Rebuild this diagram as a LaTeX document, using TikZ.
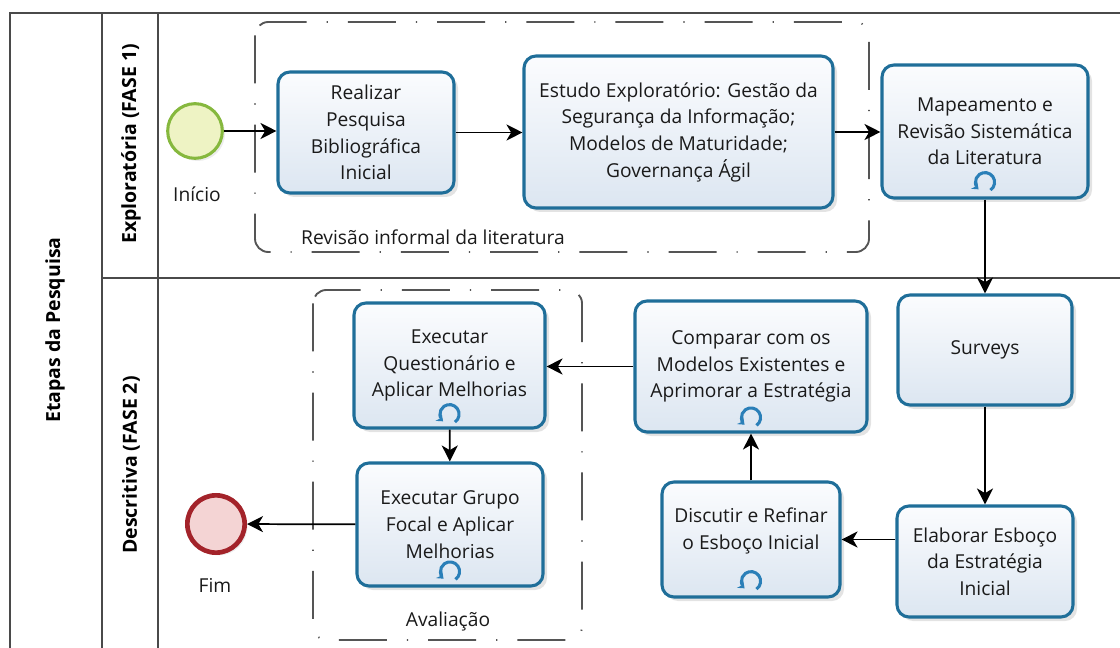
\documentclass[tikz,border=0pt]{standalone}
\usepackage{fontspec}
\setmainfont{Open Sans}
\usetikzlibrary{arrows.meta,shadows,calc}
\definecolor{taskborder}{HTML}{1F6E99}
\definecolor{tasktop}{HTML}{FBFCFE}
\definecolor{taskbot}{HTML}{DCE6F1}
\definecolor{loopblue}{HTML}{2A7FB8}
\definecolor{startfill}{HTML}{EEF3C4}
\definecolor{startdraw}{HTML}{86B83E}
\definecolor{endfill}{HTML}{F4D4D4}
\definecolor{enddraw}{HTML}{A3232A}
\definecolor{laneline}{HTML}{4A4A4A}
\definecolor{groupline}{HTML}{555555}
\definecolor{txt}{HTML}{1A1A1A}
\tikzset{
  task/.style={draw=taskborder, line width=2.3pt, rounded corners=9pt,
    top color=tasktop, bottom color=taskbot, align=center, text=txt,
    font=\fontsize{14.4}{20}\selectfont,
    drop shadow={opacity=0.22, shadow xshift=3pt, shadow yshift=-3pt}},
  startev/.style={circle, draw=startdraw, fill=startfill, line width=2.3pt,
    minimum size=41pt, inner sep=0pt,
    drop shadow={opacity=0.15, shadow xshift=2pt, shadow yshift=-2pt}},
  endev/.style={circle, draw=enddraw, fill=endfill, line width=3.5pt,
    minimum size=43pt, inner sep=0pt,
    drop shadow={opacity=0.15, shadow xshift=2pt, shadow yshift=-2pt}},
  flow/.style={draw=black, line width=1.3pt, -{Stealth[length=12pt,width=12pt,inset=3.5pt]}},
  lane/.style={draw=laneline, line width=1.2pt},
  grp/.style={draw=groupline, line width=1.4pt, rounded corners=10pt,
    dash pattern=on 36pt off 15pt on 0.9pt off 15pt},
  lbl/.style={text=txt, font=\fontsize{14.4}{17}\selectfont},
  lanelbl/.style={text=black, rotate=90, font=\bfseries\fontsize{14.6}{17}\selectfont},
  loopmark/.pic={\draw[line width=2.3pt, color=loopblue, -{Stealth[length=4.5pt,width=7pt]}]
      (-55:7.2pt) arc (-55:228:7.2pt);}
}
\begin{document}
\begin{tikzpicture}[x=0.75pt,y=-0.75pt]
\useasboundingbox (0,0) rectangle (1120,648);
% pool and lanes
\draw[lane] (10,648) -- (10,13) -- (1120,13);
\draw[lane] (102,13) -- (102,648);
\draw[lane] (158,13) -- (158,648);
\draw[lane] (102,278) -- (1120,278);
\node[lanelbl] (pool) at (55,330) {Etapas da Pesquisa};
\node[lanelbl] (lane1) at (131,144) {Exploratória (FASE 1)};
\node[lanelbl] (lane2) at (131,465) {Descritiva (FASE 2)};
% groups
\draw[grp] (255,22) rectangle (869,252);
\node[lbl] (g1) at (433,237) {Revisão informal da literatura};
\draw[grp] (313,290) rectangle (582,640);
\node[lbl] (g2) at (448,622) {Avaliação};
% events
\node[startev] (start) at (195,131) {};
\node[lbl] (startl) at (197,194) {Início};
\node[endev] (fim) at (216,524) {};
\node[lbl] (fiml) at (215,585) {Fim};
% tasks
\node[task, minimum width=132pt, minimum height=90.75pt] (t1) at (366,132.5)
  {Realizar\\Pesquisa\\Bibliográfica\\Inicial};
\node[task, minimum width=231.75pt, minimum height=114pt] (t2) at (678.5,132)
  {Estudo Exploratório: Gestão da\\Segurança da Informação;\\Modelos de Maturidade;\\Governança Ágil};
\node[task, minimum width=154.5pt, minimum height=99.75pt] (t3) at (985,131.5)
  {Mapeamento e\\Revisão Sistemática\\da Literatura};
\node[task, minimum width=130.5pt, minimum height=82.5pt] (surveys) at (985,350)
  {Surveys};
\node[task, minimum width=132pt, minimum height=83.25pt] (elab) at (985,561.5)
  {Elaborar Esboço\\da Estratégia\\Inicial};
\node[task, minimum width=133.5pt, minimum height=86.25pt] (disc) at (751,539.5)
  {Discutir e Refinar\\o Esboço Inicial\\[-4pt]};
\node[task, minimum width=174pt, minimum height=98.25pt] (comp) at (751,366.5)
  {Comparar com os\\Modelos Existentes e\\Aprimorar a Estratégia};
\node[task, minimum width=143.25pt, minimum height=93.75pt] (execq) at (449.5,365.5)
  {Executar\\Questionário e\\Aplicar Melhorias};
\node[task, minimum width=139.5pt, minimum height=92.25pt] (execg) at (450,524.5)
  {Executar Grupo\\Focal e Aplicar\\Melhorias};
% loop markers
\pic at ([yshift=13pt]t3.south) {loopmark};
\pic at ([yshift=12pt]comp.south) {loopmark};
\pic at ([yshift=13pt]disc.south) {loopmark};
\pic at ([yshift=11.5pt]execq.south) {loopmark};
\pic at ([yshift=12pt]execg.south) {loopmark};
% flows
\draw[flow] (start) -- (start -| t1.west);
\draw[flow] (t1) -- (t1 -| t2.west);
\draw[flow] (t2) -- (t2 -| t3.west);
\draw[flow] (t3) -- (surveys);
\draw[flow] (surveys) -- (elab);
\draw[flow] (disc -| elab.west) -- (disc.east);
\draw[flow] (disc) -- (comp);
\draw[flow] (comp) -- (comp -| execq.east);
\draw[flow] (execq) -- (execg);
\draw[flow] (execg) -- (fim);
\end{tikzpicture}
\end{document}
